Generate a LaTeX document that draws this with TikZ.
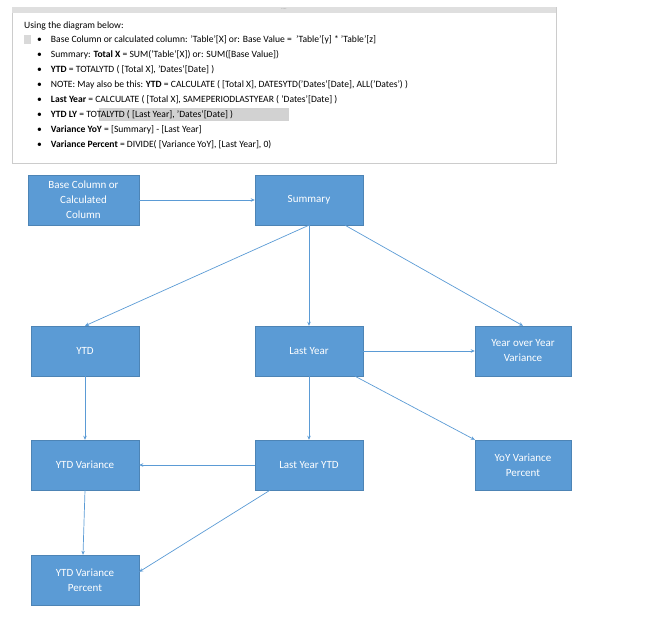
\documentclass[tikz,border=0pt]{standalone}
\usepackage{fontspec}
\setmainfont{Carlito}
\usetikzlibrary{arrows.meta}
\definecolor{bx}{HTML}{5B9BD5}
\begin{document}
\begin{tikzpicture}[x=1pt,y=-1pt,
  box/.style={fill=bx,draw=bx!85!black,line width=0.4pt,text=white,align=center,font=\fontsize{11}{15}\selectfont},
  ar/.style={draw=bx,line width=0.7pt,-{Stealth[length=4pt,width=3.5pt]}},
  it/.style={anchor=west,font=\fontsize{9.6}{11}\selectfont,inner sep=0pt}]
\useasboundingbox (0,0) rectangle (651,626);
\node[draw=gray!40,fill=white,minimum width=0pt,inner sep=0pt] (panel) at (284,85) [minimum width=544pt,minimum height=156pt] {};
\fill[gray!25] (12,7) rectangle (556,13);
\node[font=\tiny,text=gray] (dots) at (284,9.5) {....};
\node[it] (t0) at (24,26) {Using the diagram below:};
\fill[gray!30] (24,35) rectangle (31,44);
\node[it] (t1) at (37,40) {•\hspace{9pt}Base Column or calculated column: 'Table'[X] or: Base Value =\ \ 'Table'[y] * 'Table'[z]};
\node[it] (t2) at (37,55) {•\hspace{9pt}Summary: \textbf{Total X} = SUM('Table'[X]) or: SUM([Base Value])};
\node[it] (t3) at (37,70) {•\hspace{9pt}\textbf{YTD} = TOTALYTD ( [Total X], 'Dates'[Date] )};
\node[it] (t4) at (37,85) {•\hspace{9pt}NOTE: May also be this: \textbf{YTD} = CALCULATE ( [Total X], DATESYTD('Dates'[Date], ALL('Dates') )};
\node[it] (t5) at (37,100) {•\hspace{9pt}\textbf{Last Year} = CALCULATE ( [Total X], SAMEPERIODLASTYEAR ( 'Dates'[Date] )};
\fill[gray!35] (99,108) rectangle (289,121);
\node[it] (t6) at (37,115) {•\hspace{9pt}\textbf{YTD LY} = TOTALYTD ( [Last Year], 'Dates'[Date] )};
\node[it] (t7) at (37,130) {•\hspace{9pt}\textbf{Variance YoY} = [Summary] - [Last Year]};
\node[it] (t8) at (37,145) {•\hspace{9pt}\textbf{Variance Percent} = DIVIDE( [Variance YoY], [Last Year], 0)};

\node[box,minimum width=111pt,minimum height=50pt] (base) at (83.5,200) {Base Column or\\Calculated\\Column};
\node[box,minimum width=108pt,minimum height=50pt] (sum) at (309,200) {Summary};
\node[box,minimum width=108pt,minimum height=50pt] (ytd) at (85,351) {YTD};
\node[box,minimum width=108pt,minimum height=50pt] (ly) at (309,351) {Last Year};
\node[box,minimum width=96pt,minimum height=50pt] (yoy) at (523,351) {Year over Year\\Variance};
\node[box,minimum width=108pt,minimum height=50pt] (ytdv) at (85,465) {YTD Variance};
\node[box,minimum width=108pt,minimum height=50pt] (lyytd) at (309,465) {Last Year YTD};
\node[box,minimum width=96pt,minimum height=50pt] (yoyp) at (523,465) {YoY Variance\\Percent};
\node[box,minimum width=108pt,minimum height=50pt] (ytdvp) at (85,580) {YTD Variance\\Percent};

\draw[ar] (base) -- (sum);
\draw[ar] (sum.south) -- (ytd.north);
\draw[ar] (sum) -- (ly);
\draw[ar] ([xshift=36pt]sum.south) -- (yoy.north);
\draw[ar] (ly) -- (yoy);
\draw[ar] ([xshift=46pt]ly.south) -- (yoyp.north west);
\draw[ar] (ytd) -- (ytdv);
\draw[ar] (ly) -- (lyytd);
\draw[ar] (lyytd) -- (ytdv);
\draw[ar] (ytdv.south) -- ([xshift=-2pt]ytdvp.north);
\draw[ar] ([xshift=-39pt]lyytd.south) -- ([yshift=-17pt]ytdvp.north east);
\end{tikzpicture}
\end{document}
